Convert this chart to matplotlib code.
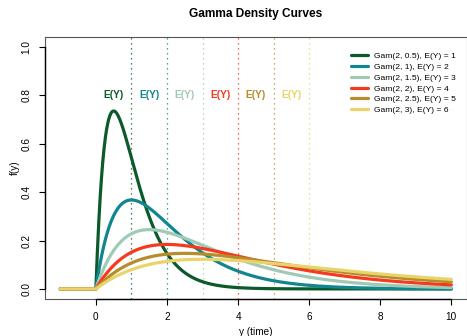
import math
import numpy as np
import matplotlib
matplotlib.use("Agg")
import matplotlib.pyplot as plt

plt.rcParams['font.family'] = ['Liberation Sans', 'DejaVu Sans']

# gamma parameters for each curve (shape, scale) and their means
shapes = [2, 2, 2, 2, 2, 2]
scales = [0.5, 1, 1.5, 2, 2.5, 3]
means = [1, 2, 3, 4, 5, 6]
colors = ['#0b5a2a', '#12868f', '#9fcab4', '#f53a1f', '#b68d2a', '#e8d46a']
labels = ['Gam(2, 0.5), E(Y) = 1', 'Gam(2, 1), E(Y) = 2', 'Gam(2, 1.5), E(Y) = 3',
          'Gam(2, 2), E(Y) = 4', 'Gam(2, 2.5), E(Y) = 5', 'Gam(2, 3), E(Y) = 6']
x_range = (-1, 10)
ey_label_y = 0.8


def gamma_pdf(y, k, theta):
    out = np.zeros_like(y)
    pos = y > 0
    out[pos] = y[pos] ** (k - 1) * np.exp(-y[pos] / theta) / (math.gamma(k) * theta ** k)
    return out


W, H = 467, 336
fig = plt.figure(figsize=(W / 100, H / 100), dpi=100)
ax = fig.add_axes([44.7 / W, (H - 298.6) / H, 422.3 / W, 261.2 / H])

y = np.linspace(x_range[0], x_range[1], 2201)

# dotted lines at each mean
for m, c in zip(means, colors):
    ax.axvline(m, color=c, linestyle=(0, (1, 3)), linewidth=0.9, zorder=1)
    ax.text(m - 0.5, ey_label_y, 'E(Y)', color=c, fontsize=7.4, fontweight='bold',
            ha='center', va='center')

for k, th, c, lab in zip(shapes, scales, colors, labels):
    ax.plot(y, gamma_pdf(y, k, th), color=c, linewidth=2.3, label=lab,
            solid_capstyle='round', zorder=2)

ax.set_xlim(-1.44, 10.44)
ax.set_ylim(-0.04, 1.04)
ax.set_xticks([0, 2, 4, 6, 8, 10])
ax.set_yticks([0.0, 0.2, 0.4, 0.6, 0.8, 1.0])
ax.set_yticklabels(['0.0', '0.2', '0.4', '0.6', '0.8', '1.0'], rotation=90, va='center')

# R-like box and axes
for s in ax.spines.values():
    s.set_color('#555555')
    s.set_linewidth(0.8)
ax.plot([0, 10], [-0.04, -0.04], color='black', linewidth=1.0, clip_on=False, zorder=5)
ax.plot([-1.44, -1.44], [0, 1], color='black', linewidth=1.0, clip_on=False, zorder=5)
ax.tick_params(direction='out', length=4.5, width=0.8, labelsize=7.2, pad=5, color='black')

ax.set_xlabel('y (time)', fontsize=7.2, labelpad=3.5)
ax.set_ylabel('f(y)', fontsize=7.2, labelpad=1)
ax.set_title('Gamma Density Curves', fontsize=8.6, fontweight='bold', pad=14.5)

ax.legend(loc='upper left', bbox_to_anchor=(351 / W, 1 - 52.5 / H), bbox_transform=fig.transFigure,
          frameon=False, fontsize=6.1, handlelength=2.0, handletextpad=0.75,
          labelspacing=0.33, borderpad=0, borderaxespad=0)

fig.savefig('out.png', dpi=100)
